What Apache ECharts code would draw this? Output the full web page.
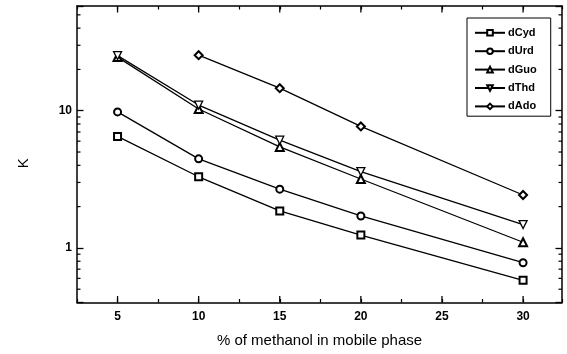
<!DOCTYPE html>
<html><head><meta charset="utf-8">
<script src="https://cdn.jsdelivr.net/npm/echarts@6/dist/echarts.min.js"></script>
<style>html,body{margin:0;padding:0;background:#fff}#c{width:567px;height:354px}</style>
</head><body><div id="c"></div>
<script>
const methanol = [5, 10, 15, 20, 30];
const dCyd = [6.5, 3.3, 1.86, 1.24, 0.58];
const dUrd = [9.8, 4.46, 2.68, 1.71, 0.78];
const dGuo = [24.6, 10.3, 5.45, 3.18, 1.10];
const dThd = [25.2, 11.0, 6.1, 3.6, 1.48];
const dAdo = [null, 25.4, 14.6, 7.68, 2.43];
const xMajorTicks = [5, 10, 15, 20, 25, 30];
const yLabels = [1, 10];
const yMinorTicks = [0.5, 0.6, 0.7, 0.8, 0.9, 2, 3, 4, 5, 6, 7, 8, 9, 20, 30, 40, 50];

const names = ['dCyd', 'dUrd', 'dGuo', 'dThd', 'dAdo'];
const values = [dCyd, dUrd, dGuo, dThd, dAdo];
const symbols = ['emptyRect', 'emptyCircle', 'emptyTriangle', 'path://M0,0 L10,0 L5,10 Z', 'emptyDiamond'];
const sizes = [7, 7, 8, 8, 8];

const chart = echarts.init(document.getElementById('c'));
const axisLine = { show: true, lineStyle: { color: '#000', width: 1.5 } };
const font = 'Liberation Sans, Arial, sans-serif';

const lineSeries = names.map((n, i) => ({
  name: n, type: 'line',
  data: methanol.map((x, j) => values[i][j] == null ? [x, '-'] : [x, values[i][j]]),
  symbol: symbols[i], symbolSize: sizes[i],
  showAllSymbol: true,
  lineStyle: { color: '#000', width: 1.3 },
  itemStyle: i === 3
    ? { color: '#fff', borderColor: '#000', borderWidth: 1.3 }
    : { color: '#000', borderWidth: 1.3 },
  emphasis: { disabled: true },
  z: 3
}));

const tickSeriesY = {
  type: 'custom', silent: true, z: 5, clip: false,
  data: yMinorTicks.map(v => [5, v]),
  renderItem: (params, api) => {
    const cs = params.coordSys;
    const y = api.coord([api.value(0), api.value(1)])[1];
    return { type: 'group', children: [
      { type: 'line', shape: { x1: cs.x, y1: y, x2: cs.x + 3.5, y2: y }, style: { stroke: '#000', lineWidth: 1.2 } },
      { type: 'line', shape: { x1: cs.x + cs.width, y1: y, x2: cs.x + cs.width - 3.5, y2: y }, style: { stroke: '#000', lineWidth: 1.2 } }
    ]};
  }
};
const tickSeriesX = {
  type: 'custom', silent: true, z: 5, clip: false,
  data: xMajorTicks.map(v => [v, 1]),
  renderItem: (params, api) => {
    const cs = params.coordSys;
    const x = api.coord([api.value(0), api.value(1)])[0];
    return { type: 'group', children: [
      { type: 'line', shape: { x1: x, y1: cs.y + cs.height, x2: x, y2: cs.y + cs.height - 6.5 }, style: { stroke: '#000', lineWidth: 1.3 } },
      { type: 'line', shape: { x1: x, y1: cs.y, x2: x, y2: cs.y + 6.5 }, style: { stroke: '#000', lineWidth: 1.3 } }
    ]};
  }
};

chart.setOption({
  animation: false,
  backgroundColor: '#fff',
  grid: { left: 77, right: 5, top: 6, bottom: 51.5 },
  legend: {
    data: names, orient: 'vertical', left: 467, top: 18,
    padding: [9.3, 14, 4.3, 7], itemGap: 7.4, itemWidth: 30, itemHeight: 7,
    borderColor: '#000', borderWidth: 1, backgroundColor: '#fff',
    textStyle: { fontFamily: font, fontSize: 11, fontWeight: 'bold', color: '#000', padding: [0, 0, 0, -2] },
    selectedMode: false
  },
  xAxis: [
    { type: 'value', min: 2.5, max: 32.4, interval: 2.5, position: 'bottom',
      axisLine, splitLine: { show: false },
      axisTick: { inside: true, length: 3.5, lineStyle: { color: '#000', width: 1.2 } },
      axisLabel: { fontFamily: font, fontSize: 12, fontWeight: 'bold', color: '#000', margin: 8,
        formatter: v => (v % 5 === 0 && v >= 5 && v <= 30) ? String(v) : '' },
      name: '% of methanol in mobile phase', nameLocation: 'middle', nameGap: 31,
      nameTextStyle: { fontFamily: font, fontSize: 15, color: '#000' } },
    { type: 'value', min: 2.5, max: 32.4, interval: 2.5, position: 'top',
      axisLine, splitLine: { show: false },
      axisTick: { inside: true, length: 3.5, lineStyle: { color: '#000', width: 1.2 } },
      axisLabel: { show: false } }
  ],
  yAxis: [
    { type: 'log', logBase: 10, min: 0.4, max: 58, position: 'left',
      axisLine, splitLine: { show: false },
      axisTick: { inside: true, length: 6.5, lineStyle: { color: '#000', width: 1.3 } },
      axisLabel: { fontFamily: font, fontSize: 12, fontWeight: 'bold', color: '#000', margin: 5,
        formatter: v => yLabels.some(t => Math.abs(t - v) < 1e-6) ? String(Math.round(v)) : '' },
      name: 'K', nameLocation: 'middle', nameGap: 46,
      nameTextStyle: { fontFamily: font, fontSize: 15, color: '#000', padding: [0, 18, 0, 0] } },
    { type: 'log', logBase: 10, min: 0.4, max: 58, position: 'right',
      axisLine, splitLine: { show: false },
      axisTick: { inside: true, length: 6.5, lineStyle: { color: '#000', width: 1.3 } },
      axisLabel: { show: false } }
  ],
  series: [...lineSeries, tickSeriesY, tickSeriesX]
});
</script></body></html>
